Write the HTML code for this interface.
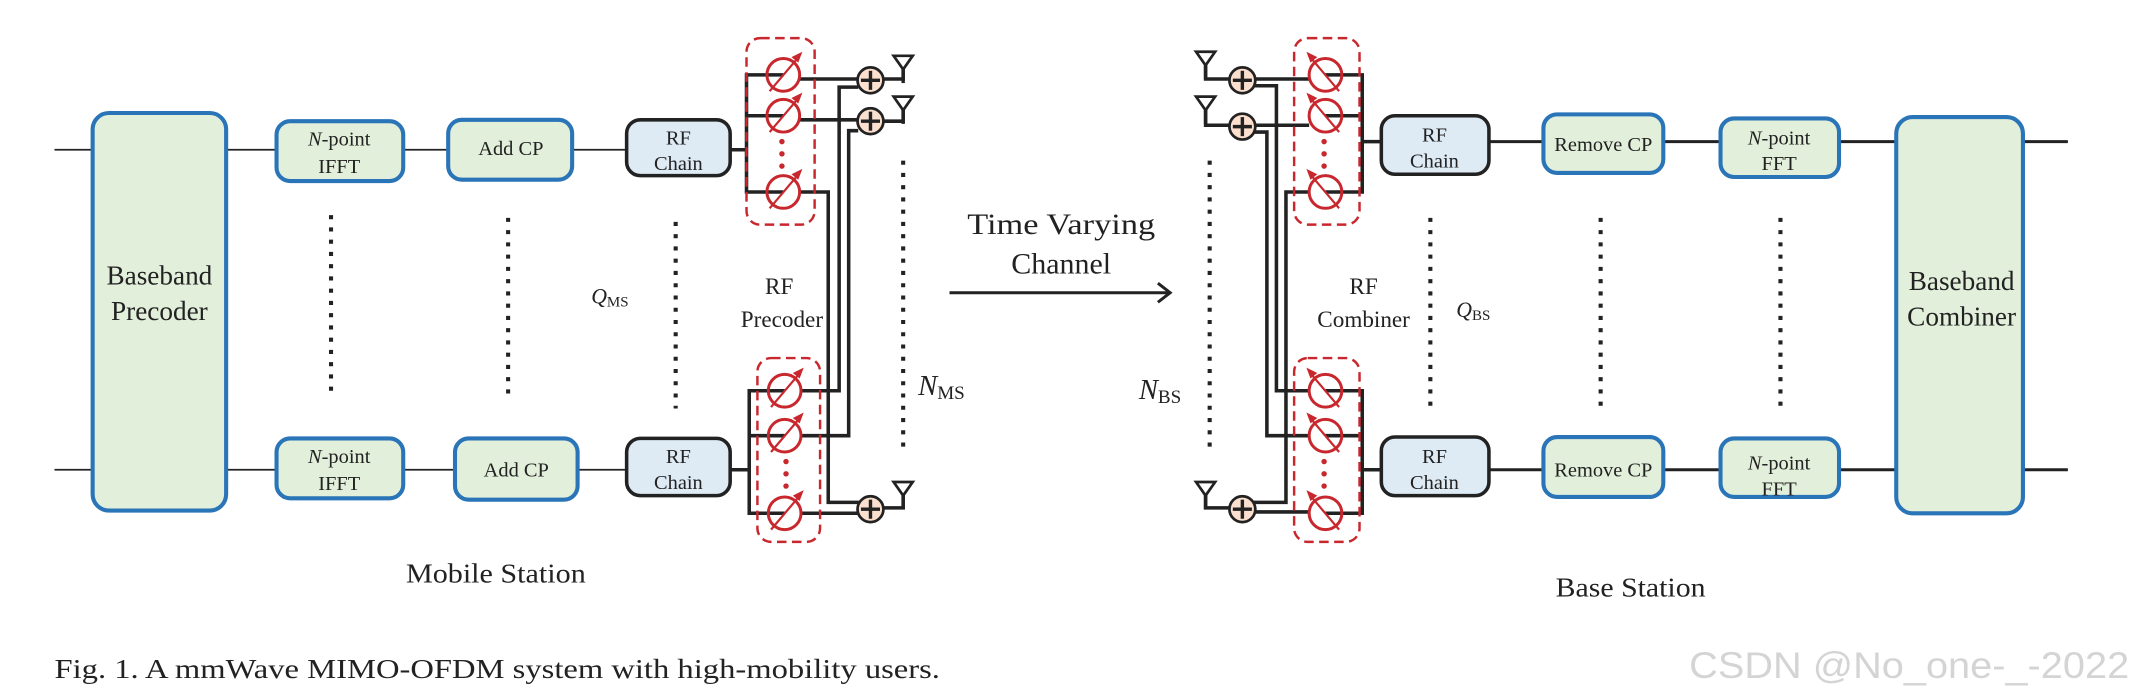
<!DOCTYPE html>
<html><head><meta charset="utf-8"><style>
html,body{margin:0;padding:0;background:#fff;}
svg{display:block;}
text{font-family:"Liberation Serif",serif;fill:#222;}
</style></head><body>
<svg width="2136" height="693" viewBox="0 0 1568 509" preserveAspectRatio="none" xmlns="http://www.w3.org/2000/svg">
<defs>
<g id="psL">
 <circle r="12" fill="none" stroke="#c8282d" stroke-width="2.2"/>
 <line x1="-10" y1="12" x2="12" y2="-14" stroke="#c8282d" stroke-width="1.6"/>
 <path d="M14,-17 L6,-13 L11,-9 Z" fill="#c8282d"/>
</g>
<g id="psR">
 <circle r="12" fill="none" stroke="#c8282d" stroke-width="2.2"/>
 <line x1="10" y1="12" x2="-12" y2="-14" stroke="#c8282d" stroke-width="1.6"/>
 <path d="M-14,-17 L-6,-13 L-11,-9 Z" fill="#c8282d"/>
</g>
<g id="add">
 <circle r="9.5" fill="#fbe0cf" stroke="#222" stroke-width="2"/>
 <line x1="-7" y1="0" x2="7" y2="0" stroke="#222" stroke-width="2.5"/>
 <line x1="0" y1="-7" x2="0" y2="7" stroke="#222" stroke-width="2.5"/>
</g>
<g id="ant">
 <path d="M-7,-14 L7,-14 L0,-4 Z" fill="#fff" stroke="#222" stroke-width="2"/>
 <line x1="0" y1="-4" x2="0" y2="6" stroke="#222" stroke-width="2.5"/>
</g>
</defs>

<g stroke="#222" stroke-width="1.3" fill="none">
<line x1="40" y1="110" x2="460" y2="110"/>
<line x1="40" y1="345" x2="460" y2="345"/>
</g>
<g stroke="#2a74b8" stroke-width="3" fill="#e2efda">
<rect x="68" y="83" width="98" height="292" rx="12"/>
<rect x="203" y="89" width="93" height="44" rx="10"/>
<rect x="329" y="88" width="91" height="44" rx="10"/>
<rect x="203" y="322" width="93" height="44" rx="10"/>
<rect x="334" y="322" width="90" height="45" rx="10"/>
</g>
<g stroke="#222" stroke-width="2.6" fill="#deebf5">
<rect x="460" y="88" width="76" height="41" rx="10"/>
<rect x="460" y="322" width="76" height="42" rx="10"/>
</g>
<g font-size="15" text-anchor="middle">
<text x="249" y="107"><tspan font-style="italic">N</tspan>-point</text>
<text x="249" y="127">IFFT</text>
<text x="249" y="340"><tspan font-style="italic">N</tspan>-point</text>
<text x="249" y="360">IFFT</text>
<text x="375" y="114">Add CP</text>
<text x="379" y="350">Add CP</text>
<text x="498" y="106" fill="#444">RF</text>
<text x="498" y="125" fill="#444">Chain</text>
<text x="498" y="340" fill="#444">RF</text>
<text x="498" y="359" fill="#444">Chain</text>
</g>
<g font-size="20" text-anchor="middle">
<text x="117" y="209">Baseband</text>
<text x="117" y="235">Precoder</text>
</g>

<g stroke="#222" stroke-width="3" stroke-dasharray="3,6" fill="none">
<line x1="243" y1="158" x2="243" y2="292"/>
<line x1="373" y1="160" x2="373" y2="295"/>
<line x1="496" y1="163" x2="496" y2="300"/>
<line x1="663" y1="118" x2="663" y2="328"/>
<line x1="888" y1="118" x2="888" y2="328"/>
<line x1="1050" y1="160" x2="1050" y2="298"/>
<line x1="1175" y1="160" x2="1175" y2="300"/>
<line x1="1307" y1="160" x2="1307" y2="298"/>
</g>

<g stroke="#222" stroke-width="2.6" fill="none">
<line x1="536" y1="110" x2="548" y2="110"/>
<polyline points="575,55 548,55 548,141 575,141"/>
<line x1="548" y1="85" x2="575" y2="85"/>
<line x1="536" y1="345" x2="550" y2="345"/>
<polyline points="576,287 550,287 550,377 576,377"/>
<line x1="550" y1="320" x2="576" y2="320"/>
<line x1="587" y1="58" x2="639" y2="58"/>
<line x1="587" y1="88" x2="639" y2="88"/>
<polyline points="587,141 608,141 608,369 639,369"/>
<polyline points="588,287 616,287 616,64 630,64"/>
<polyline points="588,320 623,320 623,96 630,96"/>
<line x1="588" y1="377" x2="639" y2="377"/>
<polyline points="649,58 663,58 663,48"/>
<polyline points="649,89 663,89 663,78"/>
<polyline points="649,373 663,373 663,361"/>
</g>
<rect x="548" y="28" width="50" height="137" rx="10" fill="none" stroke="#c8282d" stroke-width="1.8" stroke-dasharray="7,4"/>
<rect x="556" y="263" width="46" height="135" rx="10" fill="none" stroke="#c8282d" stroke-width="1.8" stroke-dasharray="7,4"/>
<use href="#psL" x="575" y="55"/><use href="#psL" x="575" y="85"/><use href="#psL" x="575" y="141"/>
<use href="#psL" x="576" y="287"/><use href="#psL" x="576" y="320"/><use href="#psL" x="576" y="377"/>
<g fill="#c8282d"><circle cx="574" cy="104" r="2"/><circle cx="574" cy="113" r="2"/><circle cx="574" cy="122" r="2"/>
<circle cx="577" cy="339" r="2"/><circle cx="577" cy="348" r="2"/><circle cx="577" cy="357" r="2"/></g>
<use href="#add" x="639" y="59"/><use href="#add" x="639" y="89"/><use href="#add" x="639" y="374"/>
<use href="#ant" x="663" y="55"/><use href="#ant" x="663" y="85"/><use href="#ant" x="663" y="368"/>

<g stroke="#222" stroke-width="2.6" fill="none">
<polyline points="973,55 1000,55 1000,141 973,141"/>
<line x1="973" y1="85" x2="1000" y2="85"/>
<line x1="1000" y1="104" x2="1014" y2="104"/>
<polyline points="973,287 1000,287 1000,377 973,377"/>
<line x1="973" y1="320" x2="1000" y2="320"/>
<line x1="1000" y1="345" x2="1014" y2="345"/>
<line x1="912" y1="58" x2="961" y2="58"/>
<line x1="912" y1="92" x2="961" y2="92"/>
<polyline points="961,141 944,141 944,369 912,369"/>
<polyline points="961,287 937,287 937,63 921,63"/>
<polyline points="961,320 930,320 930,97 921,97"/>
<line x1="912" y1="376" x2="961" y2="376"/>
<polyline points="903,58 885,58 885,48"/>
<polyline points="903,92 885,92 885,80"/>
<polyline points="903,373 885,373 885,362"/>
</g>
<rect x="950" y="28" width="48" height="137" rx="10" fill="none" stroke="#c8282d" stroke-width="1.8" stroke-dasharray="7,4"/>
<rect x="950" y="263" width="48" height="135" rx="10" fill="none" stroke="#c8282d" stroke-width="1.8" stroke-dasharray="7,4"/>
<use href="#psR" x="973" y="55"/><use href="#psR" x="973" y="85"/><use href="#psR" x="973" y="141"/>
<use href="#psR" x="973" y="287"/><use href="#psR" x="973" y="320"/><use href="#psR" x="973" y="377"/>
<g fill="#c8282d"><circle cx="972" cy="104" r="2"/><circle cx="972" cy="113" r="2"/><circle cx="972" cy="122" r="2"/>
<circle cx="972" cy="339" r="2"/><circle cx="972" cy="348" r="2"/><circle cx="972" cy="357" r="2"/></g>
<use href="#add" x="912" y="59"/><use href="#add" x="912" y="93"/><use href="#add" x="912" y="374"/>
<use href="#ant" x="885" y="52"/><use href="#ant" x="885" y="85"/><use href="#ant" x="885" y="368"/>

<g stroke="#222" stroke-width="2.2" fill="none">
<line x1="1093" y1="104" x2="1518" y2="104"/>
<line x1="1093" y1="345" x2="1518" y2="345"/>
</g>
<g stroke="#222" stroke-width="2.6" fill="#deebf5">
<rect x="1014" y="85" width="79" height="43" rx="10"/>
<rect x="1014" y="321" width="79" height="43" rx="10"/>
</g>
<g stroke="#2a74b8" stroke-width="3" fill="#e2efda">
<rect x="1133" y="84" width="88" height="43" rx="10"/>
<rect x="1133" y="321" width="88" height="44" rx="10"/>
<rect x="1263" y="87" width="87" height="43" rx="10"/>
<rect x="1263" y="322" width="87" height="43" rx="10"/>
<rect x="1392" y="86" width="93" height="291" rx="12"/>
</g>
<g font-size="15" text-anchor="middle">
<text x="1053" y="104" fill="#444">RF</text>
<text x="1053" y="123" fill="#444">Chain</text>
<text x="1053" y="340" fill="#444">RF</text>
<text x="1053" y="359" fill="#444">Chain</text>
<text x="1177" y="111">Remove CP</text>
<text x="1177" y="350">Remove CP</text>
<text x="1306" y="106"><tspan font-style="italic">N</tspan>-point</text>
<text x="1306" y="125">FFT</text>
<text x="1306" y="345"><tspan font-style="italic">N</tspan>-point</text>
<text x="1306" y="364">FFT</text>
</g>
<g font-size="20" text-anchor="middle">
<text x="1440" y="213">Baseband</text>
<text x="1440" y="239">Combiner</text>
</g>

<line x1="697" y1="215" x2="858" y2="215" stroke="#222" stroke-width="2.2"/>
<polyline points="850,208 859,215 850,222" fill="none" stroke="#222" stroke-width="2.2"/>
<g font-size="22" text-anchor="middle">
<text x="779" y="172" textLength="138" lengthAdjust="spacingAndGlyphs">Time Varying</text>
<text x="779" y="201">Channel</text>
</g>

<g font-size="17" text-anchor="middle">
<text x="572" y="216">RF</text>
<text x="574" y="240">Precoder</text>
<text x="1001" y="216">RF</text>
<text x="1001" y="240">Combiner</text>
</g>
<text x="434" y="223" font-size="16"><tspan font-style="italic">Q</tspan><tspan font-size="11" dy="2">MS</tspan></text>
<text x="1069" y="233" font-size="16"><tspan font-style="italic">Q</tspan><tspan font-size="11" dy="2">BS</tspan></text>
<text x="674" y="290" font-size="21"><tspan font-style="italic">N</tspan><tspan font-size="14" dy="3">MS</tspan></text>
<text x="836" y="293" font-size="21"><tspan font-style="italic">N</tspan><tspan font-size="14" dy="3">BS</tspan></text>
<text x="298" y="428" font-size="20" textLength="132" lengthAdjust="spacingAndGlyphs">Mobile Station</text>
<text x="1142" y="438" font-size="20" textLength="110" lengthAdjust="spacingAndGlyphs">Base Station</text>
<text x="40" y="498" font-size="20" textLength="650" lengthAdjust="spacingAndGlyphs">Fig. 1.  A mmWave MIMO-OFDM system with high-mobility users.</text>
<text x="1240" y="498" font-size="27" textLength="323" lengthAdjust="spacingAndGlyphs" style="font-family:'Liberation Sans',sans-serif;fill:#d4d4d4">CSDN @No_one-_-2022</text>
</svg>
</body></html>
